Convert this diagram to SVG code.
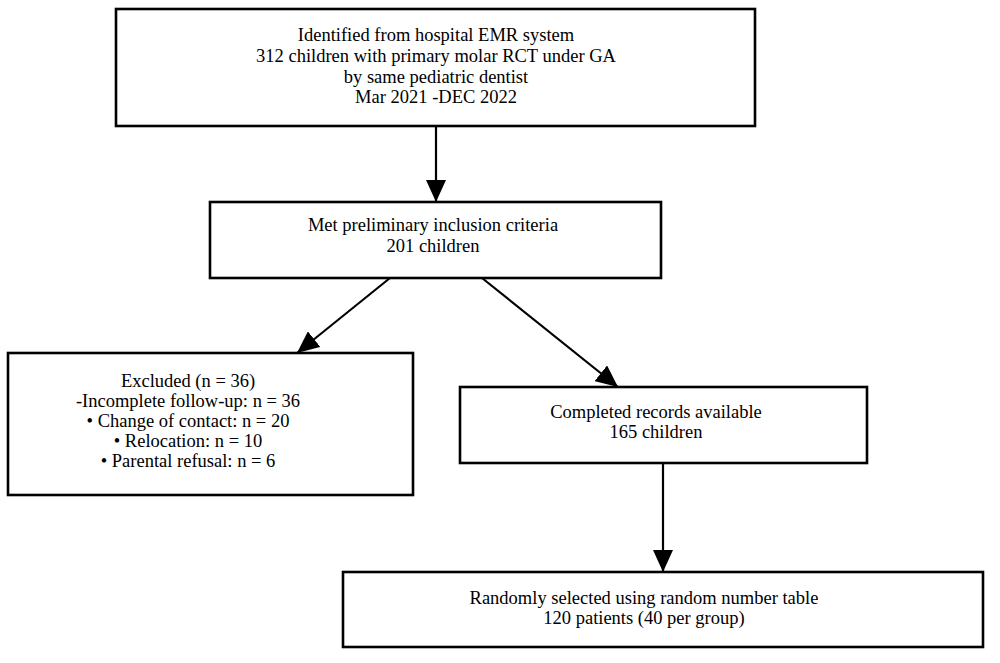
<svg xmlns="http://www.w3.org/2000/svg" width="1000" height="663" viewBox="0 0 1000 663">
  <style>
    .box { fill: #ffffff; stroke: #000000; stroke-width: 2.6; }
    .t { font-family: "Liberation Serif", "Times New Roman", serif; font-size: 18.5px; fill: #000000; text-anchor: middle; }
    .conn { stroke: #000000; stroke-width: 2.2; fill: none; marker-end: url(#arrow); }
  </style>
  <defs>
    <marker id="arrow" viewBox="0 0 22 20" refX="22" refY="10" markerWidth="22" markerHeight="20" markerUnits="userSpaceOnUse" orient="auto">
      <path d="M0,0 L22,10 L0,20 Z" fill="#000000"/>
    </marker>
  </defs>
  <rect width="1000" height="663" fill="#ffffff"/>

  <g id="connectors">
    <line class="conn" x1="436" y1="127" x2="436" y2="202"/>
    <line class="conn" x1="390" y1="278" x2="297" y2="353"/>
    <line class="conn" x1="482" y1="278" x2="618" y2="387"/>
    <line class="conn" x1="663" y1="463" x2="663" y2="572"/>
  </g>

  <g id="node-identified">
    <rect class="box" x="116" y="9" width="639" height="117"/>
    <text class="t" x="436" y="41">Identified from hospital EMR system</text>
    <text class="t" x="436" y="62">312 children with primary molar RCT under GA</text>
    <text class="t" x="436" y="83">by same pediatric dentist</text>
    <text class="t" x="436" y="103">Mar 2021 -DEC 2022</text>
  </g>

  <g id="node-inclusion">
    <rect class="box" x="210" y="202" width="451" height="76"/>
    <text class="t" x="433" y="231">Met preliminary inclusion criteria</text>
    <text class="t" x="433" y="252">201 children</text>
  </g>

  <g id="node-excluded">
    <rect class="box" x="8" y="353" width="405" height="142"/>
    <text class="t" x="188" y="387">Excluded (n = 36)</text>
    <text class="t" x="188" y="407">-Incomplete follow-up: n = 36</text>
    <text class="t" x="188" y="427">• Change of contact: n = 20</text>
    <text class="t" x="188" y="447">• Relocation: n = 10</text>
    <text class="t" x="188" y="467">• Parental refusal: n = 6</text>
  </g>

  <g id="node-completed">
    <rect class="box" x="460" y="387" width="407" height="76"/>
    <text class="t" x="656" y="418">Completed records available</text>
    <text class="t" x="656" y="438">165 children</text>
  </g>

  <g id="node-random">
    <rect class="box" x="343" y="572" width="640" height="75"/>
    <text class="t" x="644" y="604">Randomly selected using random number table</text>
    <text class="t" x="644" y="624">120 patients (40 per group)</text>
  </g>
</svg>
